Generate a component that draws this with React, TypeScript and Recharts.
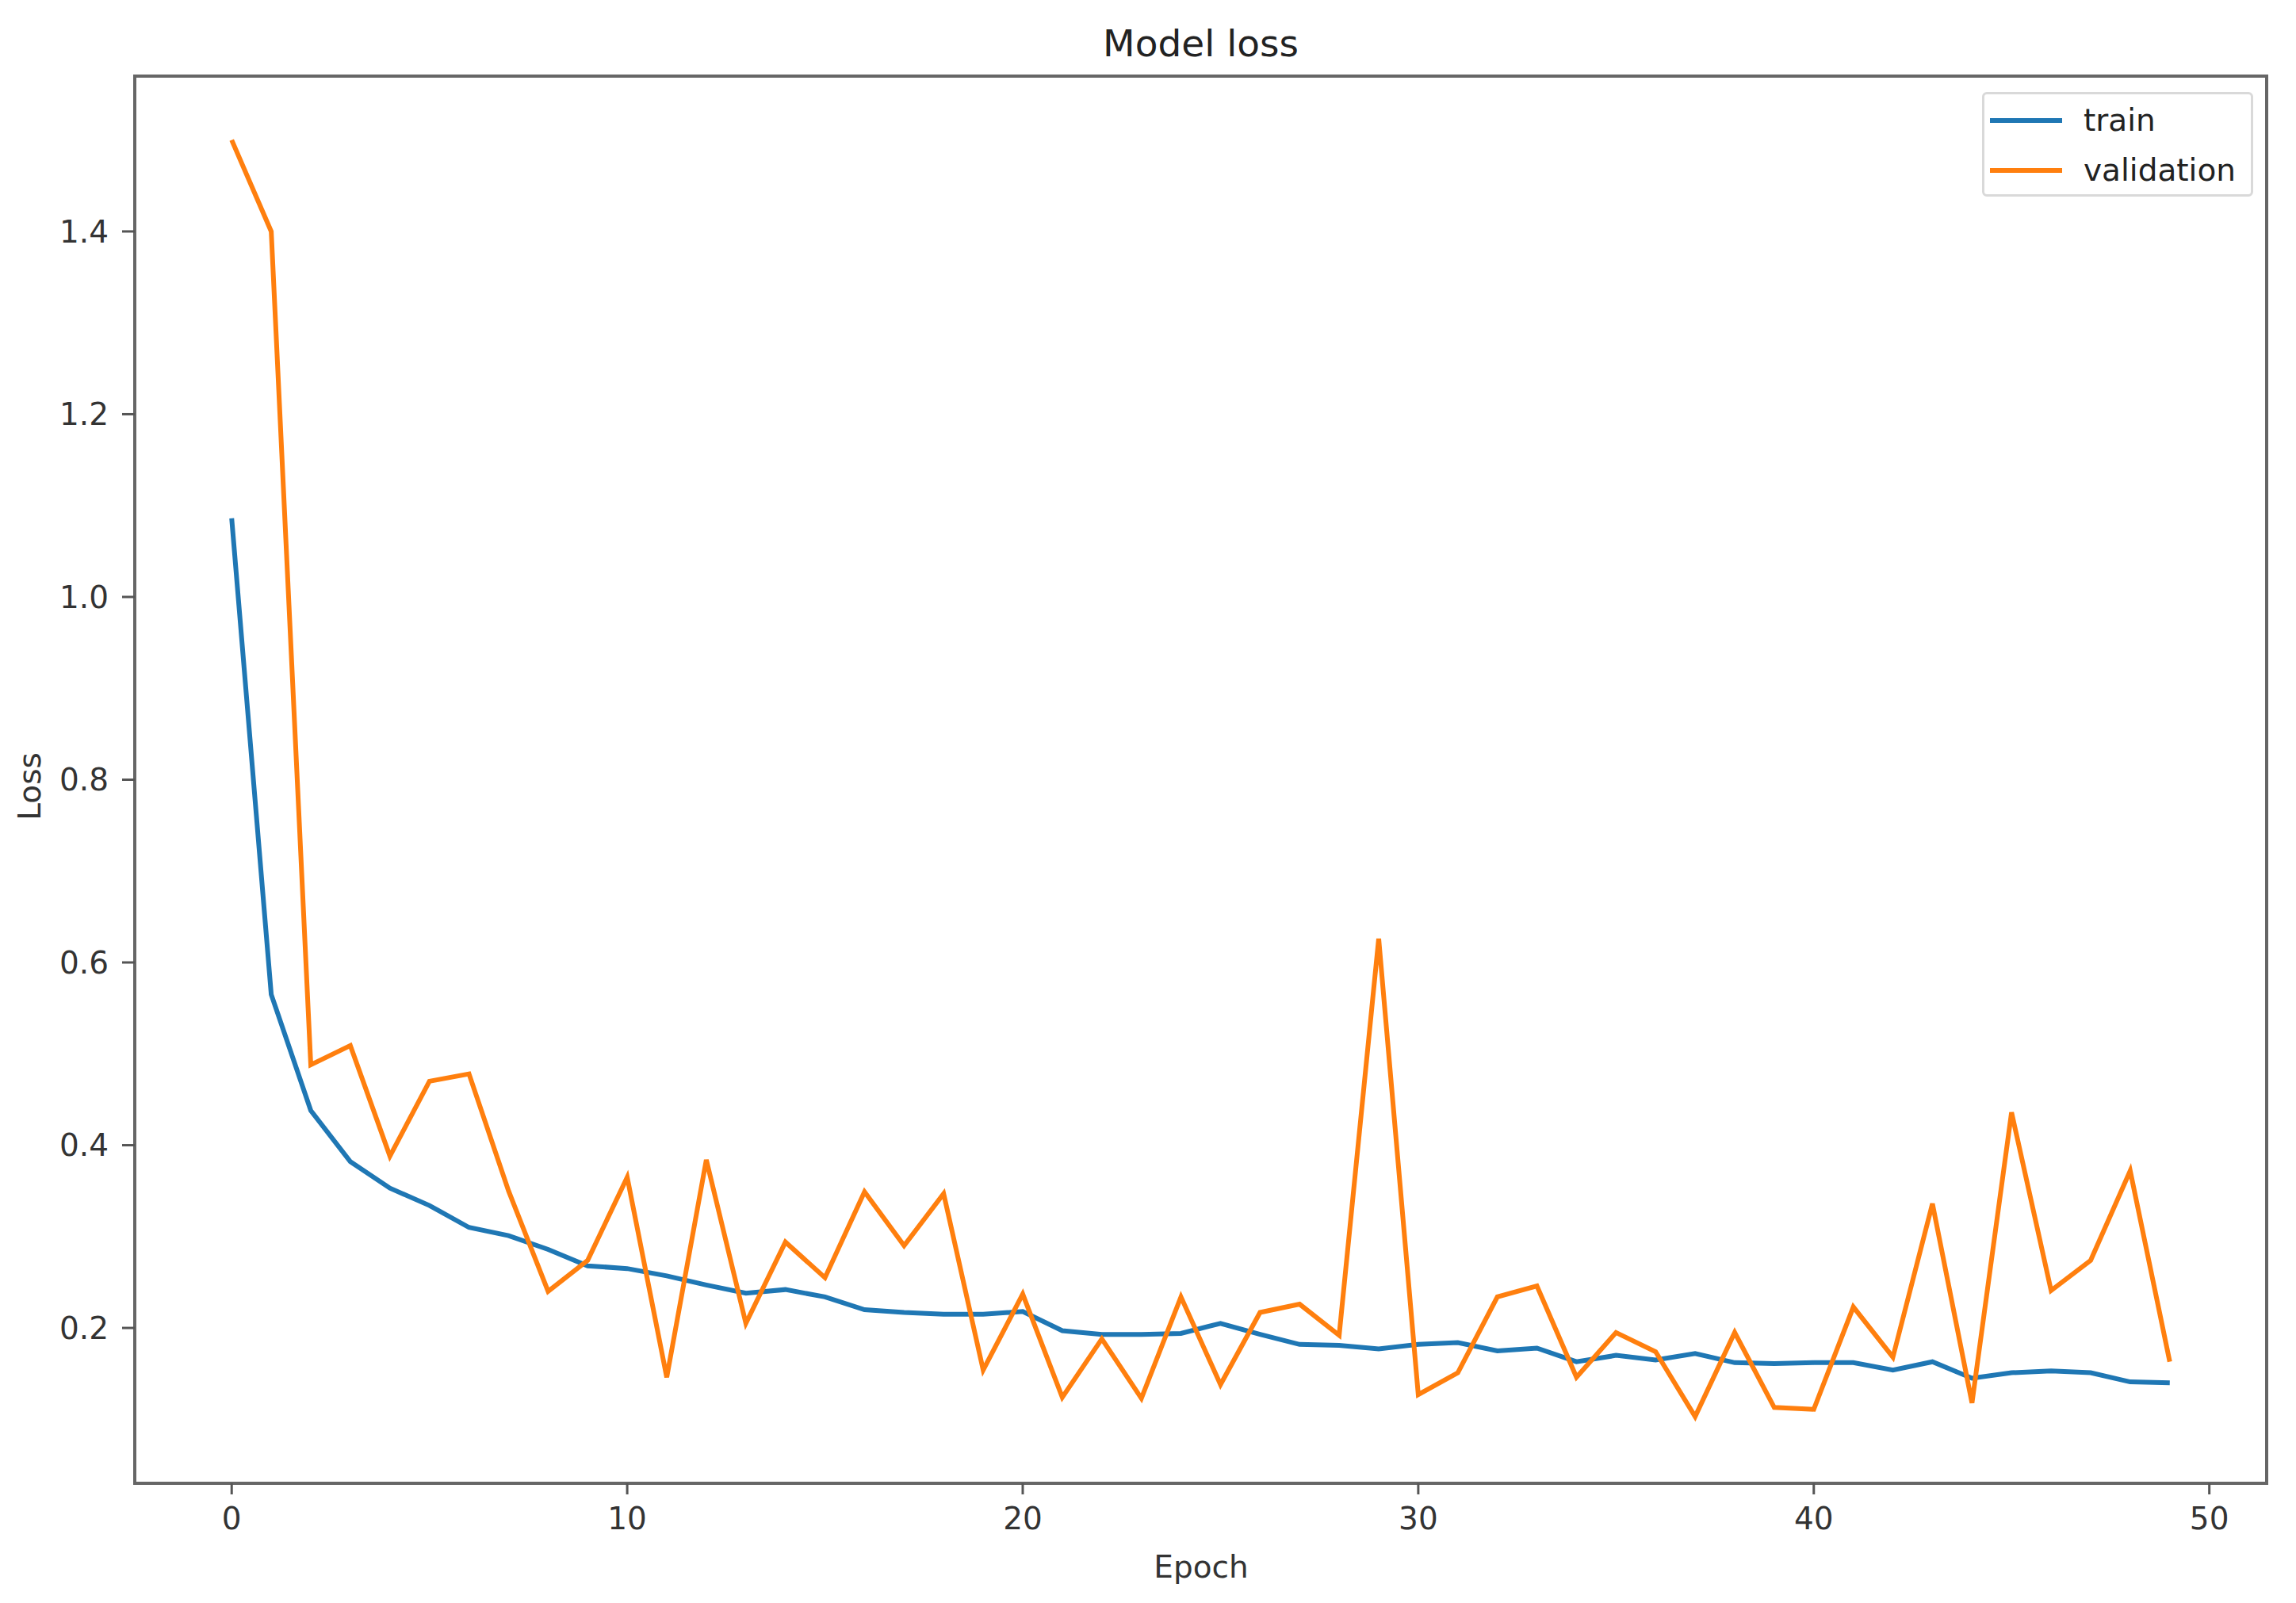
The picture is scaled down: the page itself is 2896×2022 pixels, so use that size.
import React from "react";
import {
  LineChart,
  Line,
  XAxis,
  YAxis,
  Legend,
  ReferenceArea,
} from "recharts";

const FONT = "DejaVu Sans, Liberation Sans, sans-serif";

// loss per epoch
const train = [
  1.086, 0.565, 0.438, 0.382, 0.353, 0.334, 0.31, 0.301, 0.286, 0.268,
  0.265, 0.257, 0.247, 0.238, 0.242, 0.234, 0.22, 0.217, 0.215, 0.215,
  0.218, 0.197, 0.193, 0.193, 0.194, 0.205, 0.193, 0.182, 0.181, 0.177,
  0.182, 0.184, 0.175, 0.178, 0.163, 0.17, 0.165, 0.172, 0.162, 0.161,
  0.162, 0.162, 0.154, 0.163, 0.145, 0.151, 0.153, 0.151, 0.141, 0.14,
];
const validation = [
  1.5, 1.4, 0.488, 0.509, 0.388, 0.47, 0.478, 0.35, 0.24, 0.274,
  0.365, 0.146, 0.384, 0.205, 0.294, 0.255, 0.349, 0.29, 0.347, 0.154,
  0.237, 0.124, 0.188, 0.123, 0.234, 0.138, 0.217, 0.226, 0.192, 0.626,
  0.127, 0.151, 0.234, 0.246, 0.146, 0.195, 0.174, 0.103, 0.195, 0.113,
  0.111, 0.223, 0.168, 0.336, 0.118, 0.436, 0.241, 0.274, 0.372, 0.163,
];

const xTicks = [0, 10, 20, 30, 40, 50];
const yTicks = [0.2, 0.4, 0.6, 0.8, 1.0, 1.2, 1.4];
const xDomain = [-2.45, 51.45];
const yDomain = [0.03, 1.57];

const seriesNames = ["train", "validation"];
const seriesColors = ["#1f77b4", "#ff7f0e"];

const data = train.map((t, i) => ({ epoch: i, train: t, validation: validation[i] }));

function LegendBox() {
  return (
    <div
      style={{
        boxSizing: "border-box",
        width: 342,
        height: 132,
        border: "3px solid #d9d9d9",
        borderRadius: 6,
        background: "rgba(255,255,255,0.8)",
        fontFamily: FONT,
        fontSize: 39,
        color: "#222",
        paddingTop: 1,
      }}
    >
      {seriesNames.map((name, i) => (
        <div key={name} style={{ display: "flex", alignItems: "center", height: 63 }}>
          <div style={{ width: 91, height: 6, marginLeft: 7, background: seriesColors[i] }} />
          <span style={{ marginLeft: 27, lineHeight: "63px" }}>{name}</span>
        </div>
      ))}
    </div>
  );
}

export default function App() {
  const tickStyle = { fill: "#333", fontSize: 39, fontFamily: FONT };
  return (
    <div style={{ position: "absolute", left: 0, top: 0, width: 2896, height: 2022, background: "#fff" }}>
      <div
        style={{
          position: "absolute",
          left: 170,
          width: 2689,
          top: 31,
          textAlign: "center",
          fontFamily: FONT,
          fontSize: 47,
          lineHeight: "47px",
          color: "#222",
        }}
      >
        Model loss
      </div>
      <div
        style={{
          position: "absolute",
          left: 1515,
          top: 1976,
          transform: "translate(-50%, -50%)",
          fontFamily: FONT,
          fontSize: 39,
          color: "#333",
          whiteSpace: "nowrap",
        }}
      >
        Epoch
      </div>
      <div
        style={{
          position: "absolute",
          left: 37,
          top: 992,
          transform: "translate(-50%, -50%) rotate(-90deg)",
          fontFamily: FONT,
          fontSize: 39,
          color: "#333",
          whiteSpace: "nowrap",
        }}
      >
        Loss
      </div>
      <LineChart
        width={2896}
        height={2022}
        data={data}
        margin={{ top: 96, right: 37, bottom: 31, left: 20 }}
      >
        <XAxis
          dataKey="epoch"
          type="number"
          domain={xDomain}
          ticks={xTicks}
          allowDataOverflow
          height={120}
          tick={tickStyle}
          tickSize={14}
          tickMargin={16}
          axisLine={{ stroke: "#666", strokeWidth: 4 }}
          tickLine={{ stroke: "#555", strokeWidth: 3 }}
        />
        <YAxis
          type="number"
          domain={yDomain}
          ticks={yTicks}
          allowDataOverflow
          width={150}
          tick={tickStyle}
          tickSize={16}
          tickMargin={17}
          tickFormatter={(v) => Number(v).toFixed(1)}
          axisLine={{ stroke: "#666", strokeWidth: 4 }}
          tickLine={{ stroke: "#555", strokeWidth: 3 }}
        />
        <ReferenceArea
          x1={xDomain[0]}
          x2={xDomain[1]}
          y1={yDomain[0]}
          y2={yDomain[1]}
          fill="none"
          stroke="#666"
          strokeWidth={4}
          ifOverflow="visible"
        />
        <Line
          dataKey="train"
          stroke={seriesColors[0]}
          strokeWidth={6}
          dot={false}
          type="linear"
          isAnimationActive={false}
        />
        <Line
          dataKey="validation"
          stroke={seriesColors[1]}
          strokeWidth={6}
          dot={false}
          type="linear"
          isAnimationActive={false}
        />
        <Legend
          layout="vertical"
          align="center"
          verticalAlign="middle"
          content={() => <LegendBox />}
          wrapperStyle={{ position: "absolute", top: 116, left: 2500, width: 342, height: 132 }}
        />
      </LineChart>
    </div>
  );
}
